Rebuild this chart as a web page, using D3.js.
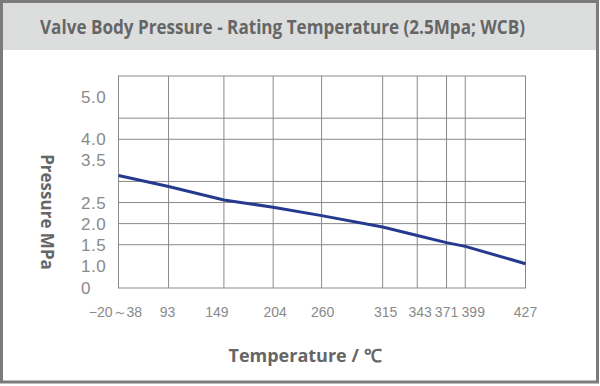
<!DOCTYPE html>
<html>
<head>
<meta charset="utf-8">
<script src="https://cdn.jsdelivr.net/npm/d3@7"></script>
<style>
  body { margin: 0; background: #fff; }
  svg { display: block; }
</style>
</head>
<body>
<div id="chart"></div>
<script>
// data
var temps = [38, 93, 149, 204, 260, 315, 343, 371, 399, 427];
var tempLabels = ["\u221220\uff5e38", "93", "149", "204", "260", "315", "343", "371", "399", "427"];
var pressure = [3.14, 2.88, 2.56, 2.39, 2.19, 1.92, 1.72, 1.55, 1.46, 1.05];
var yLabelTicks = [0, 1.0, 1.5, 2.0, 2.5, 3.5, 4.0, 5.0];
var yGridTicks = [1.5, 2.0, 2.5, 3.0, 4.0, 4.5];

var W = 600, H = 386;
var margin = {top: 76, left: 118.5},
    width = 407,
    height = 212;

// the grid in the original is not evenly spaced, so the x scale is piecewise
var xStops = [0, 0.123, 0.259, 0.380, 0.499, 0.649, 0.734, 0.806, 0.852, 1];
// the labels don't sit exactly on their grid lines either
var labelNudge = [-3, -1, -7, 2, 1, 3, 3, 0, 8, 0];

var svg = d3.select("#chart")
  .append("svg")
  .attr("width", W)
  .attr("height", H);

// outer frame and title band
svg.append("rect")
  .attr("x", 3).attr("y", 3).attr("width", 593).attr("height", 47)
  .style("fill", "#dcdddd");
svg.append("rect")
  .attr("x", 1.5).attr("y", 1.5).attr("width", 596).attr("height", 380.5)
  .style("fill", "none").style("stroke", "#7b7b7b").style("stroke-width", 3);

svg.append("text")
  .attr("x", 40).attr("y", 34)
  .attr("textLength", 485).attr("lengthAdjust", "spacingAndGlyphs")
  .style("font-family", "'Open Sans', sans-serif")
  .style("font-weight", "bold")
  .style("font-size", "19px")
  .style("fill", "#666")
  .text("Valve Body Pressure - Rating Temperature (2.5Mpa; WCB)");

var g = svg.append("g")
  .attr("transform", "translate(" + margin.left + "," + margin.top + ")");

var x = d3.scaleLinear()
  .domain(temps)
  .range(xStops.map(function(s) { return s * width; }));

var y = d3.scaleLinear()
  .domain([0, 1, 5.5])
  .range([height, height - 22.2, 0]);

// grid
g.selectAll("line.vgrid")
  .data(temps.slice(1, -1))
  .enter().append("line")
  .attr("class", "vgrid")
  .attr("x1", function(d) { return x(d); })
  .attr("x2", function(d) { return x(d); })
  .attr("y1", 0).attr("y2", height)
  .style("stroke", "#8a8a8a");

g.selectAll("line.hgrid")
  .data(yGridTicks)
  .enter().append("line")
  .attr("class", "hgrid")
  .attr("x1", 0).attr("x2", width)
  .attr("y1", function(d) { return y(d); })
  .attr("y2", function(d) { return y(d); })
  .style("stroke", "#8a8a8a");

g.append("rect")
  .attr("width", width).attr("height", height)
  .style("fill", "none").style("stroke", "#8a8a8a");

// pressure line
var line = d3.line()
  .x(function(d, i) { return x(temps[i]); })
  .y(function(d) { return y(d); });

g.append("path")
  .datum(pressure)
  .attr("d", line)
  .style("fill", "none")
  .style("stroke", "#253a8e")
  .style("stroke-width", 3);

// y tick labels (left aligned, as in the original)
svg.selectAll("text.ytick")
  .data(yLabelTicks)
  .enter().append("text")
  .attr("class", "ytick")
  .attr("x", 81)
  .attr("y", function(d) { return margin.top + y(d); })
  .attr("dy", "0.36em")
  .style("font-family", "'Liberation Sans', Arial, sans-serif")
  .style("font-size", "17px")
  .style("letter-spacing", "0.5px")
  .style("fill", "#8a8a8a")
  .text(function(d) { return d === 0 ? "0" : d3.format(".1f")(d); });

// x tick labels
svg.selectAll("text.xtick")
  .data(temps)
  .enter().append("text")
  .attr("class", "xtick")
  .attr("x", function(d, i) { return margin.left + x(d) + labelNudge[i]; })
  .attr("y", 312)
  .attr("dy", "0.36em")
  .attr("text-anchor", "middle")
  .style("font-family", "'Liberation Sans', Arial, sans-serif")
  .style("font-size", "14px")
  .style("fill", "#8a8a8a")
  .text(function(d, i) { return tempLabels[i]; });

// axis titles
svg.append("text")
  .attr("transform", "translate(41,212) rotate(90)")
  .attr("text-anchor", "middle")
  .style("font-family", "'Open Sans', sans-serif")
  .style("font-weight", "bold")
  .style("font-size", "17px")
  .style("fill", "#666")
  .text("Pressure MPa");

svg.append("text")
  .attr("x", 305).attr("y", 362)
  .attr("text-anchor", "middle")
  .style("font-family", "'Open Sans', sans-serif")
  .style("font-weight", "bold")
  .style("font-size", "18px")
  .style("fill", "#666")
  .text("Temperature / \u2103");
</script>
</body>
</html>
